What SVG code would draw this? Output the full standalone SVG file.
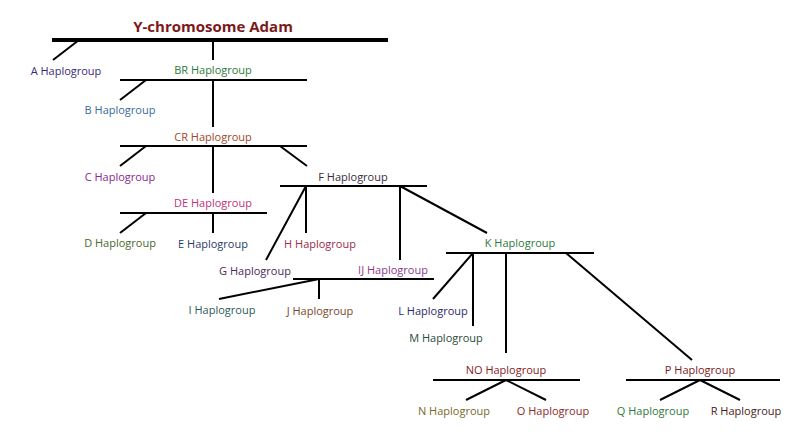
<svg xmlns="http://www.w3.org/2000/svg" width="800" height="438" viewBox="0 0 800 438">
<style>
text{font-family:"Open Sans","DejaVu Sans",sans-serif;font-size:11px;text-anchor:middle}
.c line{stroke:#000;stroke-width:2}
</style>
<rect width="800" height="438" fill="#fff"/>
<g class="c" id="connectors">
<line x1="52" y1="40" x2="388" y2="40" style="stroke-width:4"/>
<line x1="79" y1="40" x2="53" y2="60"/><line x1="213" y1="40" x2="213" y2="60"/>
<line x1="120" y1="80" x2="307" y2="80"/><line x1="146" y1="80" x2="120" y2="100"/><line x1="213" y1="80" x2="213" y2="127"/>
<line x1="120" y1="146" x2="307" y2="146"/><line x1="146" y1="146" x2="120" y2="166"/><line x1="280" y1="146" x2="307" y2="166"/><line x1="213" y1="146" x2="213" y2="193"/>
<line x1="120" y1="213" x2="267" y2="213"/><line x1="146" y1="213" x2="120" y2="233"/><line x1="213" y1="213" x2="213" y2="233"/>
<line x1="280" y1="186" x2="427" y2="186"/><line x1="306" y1="186" x2="266" y2="260"/><line x1="306" y1="186" x2="306" y2="233"/><line x1="400" y1="186" x2="400" y2="260"/><line x1="400" y1="186" x2="487" y2="233"/>
<line x1="293" y1="279" x2="434" y2="279"/><line x1="319" y1="279" x2="219" y2="299"/><line x1="319" y1="279" x2="319" y2="299"/>
<line x1="446" y1="253" x2="594" y2="253"/><line x1="473" y1="253" x2="433" y2="299"/><line x1="473" y1="253" x2="473" y2="326"/><line x1="506" y1="253" x2="506" y2="353"/><line x1="566" y1="253" x2="692" y2="360"/>
<line x1="433" y1="380" x2="580" y2="380"/><line x1="506" y1="380" x2="466" y2="400"/><line x1="506" y1="380" x2="546" y2="400"/>
<line x1="626" y1="380" x2="780" y2="380"/><line x1="700" y1="380" x2="660" y2="400"/><line x1="700" y1="380" x2="740" y2="400"/>
</g>
<g id="adam"><text x="213" y="32" style="font-size:15px;font-weight:bold" fill="#7a1a1a">Y-chromosome Adam</text></g>
<g id="A"><text x="66" y="75" fill="#3a2a7a">A Haplogroup</text></g>
<g id="BR"><text x="213" y="74" fill="#2e7a3a">BR Haplogroup</text></g>
<g id="B"><text x="120" y="114" fill="#3a6a9a">B Haplogroup</text></g>
<g id="CR"><text x="213" y="141" fill="#a0482a">CR Haplogroup</text></g>
<g id="C"><text x="120" y="181" fill="#8a2a8a">C Haplogroup</text></g>
<g id="F"><text x="353" y="181" fill="#3a2a3a">F Haplogroup</text></g>
<g id="DE"><text x="213" y="207" fill="#c0307a">DE Haplogroup</text></g>
<g id="D"><text x="120" y="247" fill="#4a6a2a">D Haplogroup</text></g>
<g id="E"><text x="213" y="248" fill="#2a3a6a">E Haplogroup</text></g>
<g id="H"><text x="320" y="248" fill="#a02a4a">H Haplogroup</text></g>
<g id="G"><text x="255" y="275" fill="#4a2a5a">G Haplogroup</text></g>
<g id="IJ"><text x="393" y="274" fill="#8a3a8a">IJ Haplogroup</text></g>
<g id="I"><text x="222" y="314" fill="#2a5a5a">I Haplogroup</text></g>
<g id="J"><text x="320" y="315" fill="#7a4a2a">J Haplogroup</text></g>
<g id="K"><text x="520" y="247" fill="#2e7a3a">K Haplogroup</text></g>
<g id="L"><text x="433" y="315" fill="#2a2a6a">L Haplogroup</text></g>
<g id="M"><text x="446" y="342" fill="#2a4a3a">M Haplogroup</text></g>
<g id="NO"><text x="506" y="374" fill="#8a1a1a">NO Haplogroup</text></g>
<g id="N"><text x="454" y="415" fill="#7a6a2a">N Haplogroup</text></g>
<g id="O"><text x="553" y="415" fill="#8a2a2a">O Haplogroup</text></g>
<g id="P"><text x="700" y="374" fill="#7a1a1a">P Haplogroup</text></g>
<g id="Q"><text x="653" y="415" fill="#2e7a3a">Q Haplogroup</text></g>
<g id="R"><text x="746" y="415" fill="#4a1a1a">R Haplogroup</text></g>
</svg>
